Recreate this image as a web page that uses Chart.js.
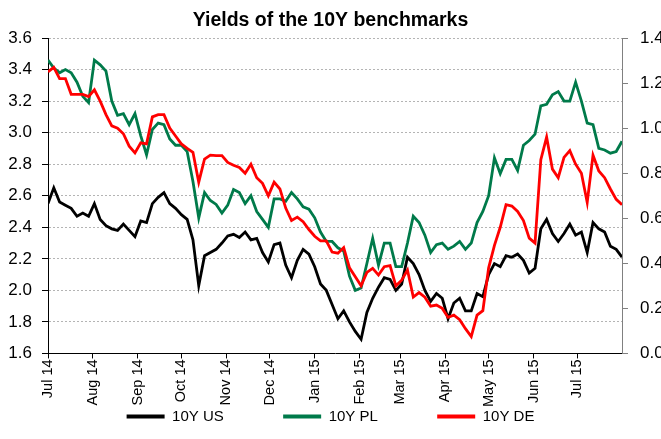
<!DOCTYPE html>
<html>
<head>
<meta charset="utf-8">
<script src="https://cdn.jsdelivr.net/npm/chart.js@4"></script>
<style>
  html, body { margin: 0; padding: 0; background: #fff; }
</style>
</head>
<body>
<canvas id="chart" width="661" height="439"></canvas>
<script>
// one reading every 4 calendar days from 1 Jul 2014
const startDate = '2014-07-01';
const stepDays = 4;

const monthStarts = ['2014-07-01', '2014-08-01', '2014-09-01', '2014-10-01', '2014-11-01', '2014-12-01',
  '2015-01-01', '2015-02-01', '2015-03-01', '2015-04-01', '2015-05-01', '2015-06-01', '2015-07-01'];
const monthLabels = ['Jul 14', 'Aug 14', 'Sep 14', 'Oct 14', 'Nov 14', 'Dec 14',
  'Jan 15', 'Feb 15', 'Mar 15', 'Apr 15', 'May 15', 'Jun 15', 'Jul 15'];
const endDate = '2015-08-01';

const us10y = [2.55, 2.65, 2.56, 2.54, 2.52, 2.47, 2.49, 2.47, 2.55, 2.45,
  2.41, 2.39, 2.38, 2.42, 2.38, 2.34, 2.44, 2.43, 2.55, 2.59,
  2.62, 2.55, 2.52, 2.48, 2.45, 2.32, 2.03, 2.22, 2.24, 2.26,
  2.30, 2.345, 2.355, 2.335, 2.37, 2.32, 2.33, 2.24, 2.18, 2.29,
  2.30, 2.16, 2.08, 2.19, 2.26, 2.23, 2.15, 2.04, 2.00, 1.91,
  1.82, 1.87, 1.80, 1.74, 1.69, 1.86, 1.95, 2.02, 2.08, 2.07,
  2.00, 2.04, 2.21, 2.17, 2.10, 2.00, 1.93, 1.98, 1.95, 1.82,
  1.92, 1.95, 1.87, 1.87, 1.98, 1.96, 2.10, 2.17, 2.15, 2.22,
  2.21, 2.23, 2.19, 2.11, 2.14, 2.39, 2.45, 2.36, 2.31, 2.36,
  2.42, 2.35, 2.37, 2.24, 2.43, 2.39, 2.37, 2.28, 2.26, 2.21];

const pl10y = [3.46, 3.41, 3.38, 3.40, 3.38, 3.32, 3.23, 3.19, 3.46, 3.43,
  3.39, 3.20, 3.11, 3.12, 3.05, 3.12, 2.98, 2.86, 3.02, 3.06,
  3.05, 2.96, 2.92, 2.92, 2.88, 2.69, 2.46, 2.62, 2.57, 2.545,
  2.49, 2.54, 2.64, 2.62, 2.55, 2.60, 2.50, 2.45, 2.40, 2.58,
  2.58, 2.565, 2.62, 2.58, 2.53, 2.515, 2.46, 2.37, 2.31, 2.31,
  2.27, 2.25, 2.09, 2.00, 2.015, 2.17, 2.33, 2.16, 2.30, 2.30,
  2.15, 2.15, 2.30, 2.47, 2.43, 2.35, 2.24, 2.29, 2.30, 2.26,
  2.28, 2.31, 2.26, 2.30, 2.43, 2.50, 2.60, 2.84, 2.74, 2.83,
  2.83, 2.76, 2.92, 2.95, 2.99, 3.17, 3.18, 3.24, 3.26, 3.20,
  3.20, 3.32, 3.20, 3.06, 3.05, 2.90, 2.89, 2.87, 2.88, 2.945];

// right axis
const de10y = [1.25, 1.27, 1.22, 1.22, 1.15, 1.15, 1.15, 1.14, 1.17, 1.12,
  1.06, 1.01, 1.00, 0.975, 0.92, 0.89, 0.935, 0.93, 1.05, 1.06,
  1.06, 1.00, 0.965, 0.93, 0.91, 0.893, 0.76, 0.863, 0.88, 0.878,
  0.878, 0.848, 0.835, 0.825, 0.80, 0.84, 0.78, 0.755, 0.70, 0.76,
  0.73, 0.645, 0.59, 0.605, 0.585, 0.55, 0.52, 0.50, 0.50, 0.45,
  0.445, 0.47, 0.38, 0.34, 0.30, 0.36, 0.378, 0.348, 0.385, 0.39,
  0.30, 0.325, 0.37, 0.25, 0.27, 0.25, 0.21, 0.215, 0.20, 0.16,
  0.17, 0.15, 0.11, 0.075, 0.17, 0.19, 0.38, 0.48, 0.56, 0.66,
  0.654, 0.63, 0.59, 0.512, 0.49, 0.86, 0.96, 0.818, 0.78, 0.87,
  0.90, 0.84, 0.80, 0.67, 0.88, 0.81, 0.78, 0.73, 0.684, 0.66];

const dayOf = s => Math.round((Date.parse(s) - Date.parse(startDate)) / 86400000);
const asPoints = arr => arr.map((v, i) => ({ x: i * stepDays, y: v }));

const FONT = "'Liberation Sans', Arial, sans-serif";
Chart.defaults.font.family = FONT;
Chart.defaults.color = '#000';

new Chart(document.getElementById('chart'), {
  type: 'line',
  data: {
    datasets: [
      { label: '10Y US', data: asPoints(us10y), borderColor: '#000000', backgroundColor: '#000000', yAxisID: 'y', order: 3 },
      { label: '10Y PL', data: asPoints(pl10y), borderColor: '#007A4A', backgroundColor: '#007A4A', yAxisID: 'y', order: 2 },
      { label: '10Y DE', data: asPoints(de10y), borderColor: '#FF0000', backgroundColor: '#FF0000', yAxisID: 'y1', order: 1 }
    ]
  },
  options: {
    responsive: false,
    animation: false,
    elements: {
      point: { radius: 0 },
      line: { borderWidth: 2.8, tension: 0 }
    },
    layout: { padding: { left: 0, right: 0, top: 0, bottom: 5 } },
    plugins: {
      title: {
        display: true,
        text: 'Yields of the 10Y benchmarks',
        font: { size: 19.5, weight: 'bold' },
        padding: { top: 9, bottom: 5.6 }
      },
      legend: {
        position: 'bottom',
        labels: {
          boxWidth: 38,
          boxHeight: 4,
          padding: 1,
          font: { size: 15 },
          sort: (a, b) => a.datasetIndex - b.datasetIndex,
          generateLabels(chart) {
            const items = Chart.defaults.plugins.legend.labels.generateLabels(chart);
            const pad = [14, 14, 0];
            items.forEach(it => {
              it.lineWidth = 0;
              it.text = it.text + '\u00A0'.repeat(pad[it.datasetIndex]);
            });
            return items;
          }
        }
      },
      tooltip: { enabled: false }
    },
    scales: {
      x: {
        type: 'linear',
        min: 0,
        max: dayOf(endDate),
        afterBuildTicks: s => { s.ticks = monthStarts.map(d => ({ value: dayOf(d) })); },
        grid: { drawOnChartArea: false, tickLength: 5, tickColor: '#000' },
        border: { color: '#000' },
        ticks: {
          autoSkip: false,
          minRotation: 90,
          maxRotation: 90,
          padding: 1,
          font: { size: 14.5 },
          callback: (v, i) => monthLabels[i]
        }
      },
      y: {
        position: 'left',
        min: 1.6,
        max: 3.6,
        afterFit: s => { s.width = 48; },
        grid: { color: '#b4b4b4', tickLength: 6, tickColor: '#000' },
        border: { color: '#000', dash: [2, 2] },
        ticks: { stepSize: 0.2, padding: 10, font: { size: 17 }, callback: v => v.toFixed(1) }
      },
      y1: {
        position: 'right',
        min: 0,
        max: 1.4,
        afterFit: s => { s.width = 39; },
        grid: { drawOnChartArea: false, tickLength: 6, tickColor: '#808080' },
        border: { color: '#808080' },
        ticks: { stepSize: 0.2, padding: 12, font: { size: 17 }, callback: v => v.toFixed(1) }
      }
    }
  }
});
</script>
</body>
</html>
